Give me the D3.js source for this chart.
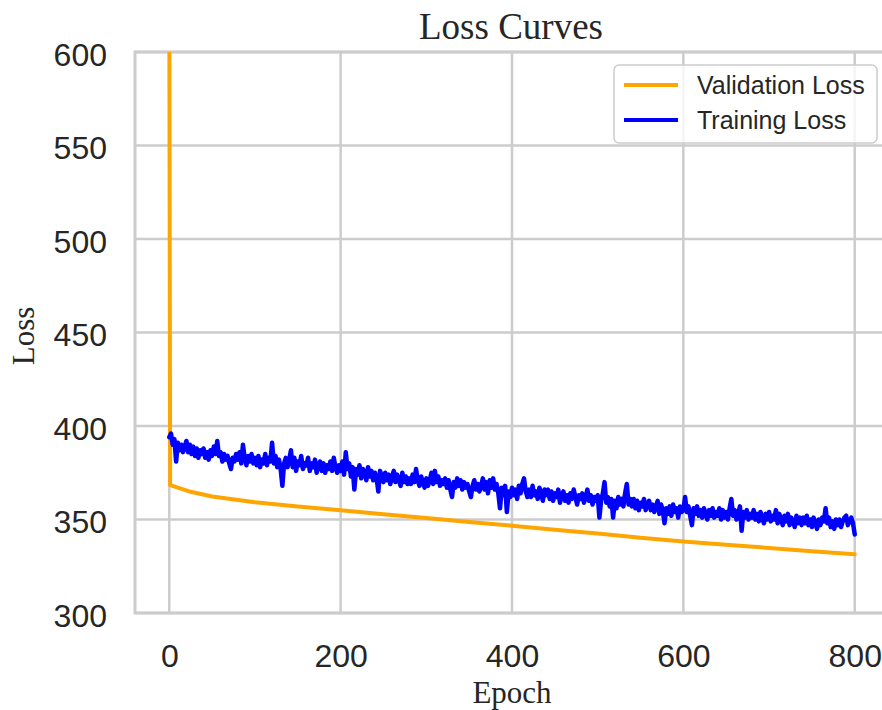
<!DOCTYPE html>
<html>
<head>
<meta charset="utf-8">
<script src="https://cdn.jsdelivr.net/npm/d3@7"></script>
<style>
  html, body { margin: 0; padding: 0; background: #fff; }
  svg { display: block; }
</style>
</head>
<body>
<svg id="chart" width="882" height="710"></svg>
<script>
// ---- data ----
const valEpochs = [0, 1, 25, 50, 100, 150, 200, 250, 300, 350, 400, 450, 500, 550, 600, 650, 700, 750, 800];
const valLoss   = [640, 368.4, 364.8, 362.3, 359.2, 357, 355, 352.8, 350.8, 348.7, 346.7, 344.5, 342.5, 340.3, 338.2, 336.5, 334.8, 333, 331.4];

const trainStep = 2; // epochs between training samples
const trainLoss = [
  394, 396, 390, 393, 381, 391, 387, 390, 386, 389,
  392, 386, 390, 385, 389, 384, 388, 383, 387, 385,
  388, 383, 386, 382, 387, 384, 389, 385, 392, 384,
  386, 381, 385, 382, 384, 380, 377, 383, 381, 385,
  382, 386, 380, 390, 383, 379, 384, 381, 385, 380,
  383, 379, 384, 378, 382, 380, 385, 379, 383, 381,
  391, 380, 384, 378, 382, 377, 368, 380, 383, 378,
  382, 387, 378, 383, 376, 381, 379, 384, 377, 380,
  379, 383, 376, 380, 378, 382, 375, 379, 381, 376,
  380, 375, 379, 377, 381, 376, 383, 378, 375, 379,
  376, 381, 374, 386, 377, 380, 373, 378, 366, 377,
  374, 379, 372, 377, 375, 371, 378, 373, 376, 371,
  375, 372, 365, 376, 373, 370, 375, 371, 374, 369,
  373, 376, 370, 374, 371, 368, 375, 370, 373, 369,
  372, 369, 374, 370, 377, 371, 368, 373, 370, 367,
  372, 368, 371, 375, 369, 376, 370, 373, 368, 371,
  369, 372, 367, 371, 366, 362, 370, 367, 372, 368,
  371, 366, 370, 367, 369, 365, 362, 368, 371, 366,
  369, 365, 368, 372, 366, 370, 364, 371, 367, 372,
  366, 369, 364, 356, 367, 363, 368, 354, 365, 362,
  367, 363, 366, 361, 368, 364, 369, 372, 365, 362,
  366, 362, 368, 363, 365, 361, 367, 364, 360, 366,
  363, 366, 361, 365, 360, 364, 362, 366, 359, 363,
  365, 360, 363, 359, 364, 361, 366, 362, 358, 363,
  361, 364, 359, 362, 366, 360, 363, 358, 362, 360,
  363, 351, 360, 364, 370, 359, 362, 357, 361, 351,
  360, 356, 362, 358, 361, 357, 364, 369, 358, 361,
  357, 361, 356, 360, 355, 359, 357, 361, 355, 358,
  360, 355, 358, 354, 357, 360, 353, 358, 355, 348,
  356, 353, 357, 352, 358, 354, 356, 351, 357, 354,
  355, 362, 354, 357, 352, 347, 356, 353, 357, 352,
  355, 351, 356, 353, 350, 355, 352, 356, 351, 354,
  352, 356, 350, 355, 351, 354, 350, 356, 361, 352,
  355, 350, 353, 357, 344, 354, 351, 355, 350, 353,
  351, 355, 350, 353, 349, 354, 351, 348, 353, 350,
  354, 349, 352, 350, 355, 348, 353, 350, 347, 352,
  349, 353, 347, 351, 349, 346, 352, 348, 351, 347,
  351, 348, 352, 347, 350, 346, 351, 348, 345, 350,
  347, 351, 349, 356, 348, 351, 346, 349, 345, 350,
  347, 350, 346, 349, 351, 352, 347, 349, 351, 348,
  342
];

const xTicks = [0, 200, 400, 600, 800];
const yTicks = [300, 350, 400, 450, 500, 550, 600];
const seriesNames = ["Validation Loss", "Training Loss"];
const seriesColors = ["#ffa500", "#0000ff"];

// ---- layout ----
const svg = d3.select("#chart");
const pL = 135, pT = 52, pR = 889, pB = 613;
const x = d3.scaleLinear().domain([-40, 840]).range([pL, pR]);
const y = d3.scaleLinear().domain([300, 600]).range([pB, pT]);
const gridColor = "#cccccc";
const textColor = "#262626";
const sans = "'Liberation Sans', Arial, sans-serif";
const serif = "'Liberation Serif', 'Times New Roman', serif";

svg.append("defs").append("clipPath").attr("id", "plotclip")
  .append("rect").attr("x", pL).attr("y", pT).attr("width", pR - pL).attr("height", pB - pT);

// grid
const grid = svg.append("g");
grid.selectAll("line.h").data(yTicks).join("line")
  .attr("x1", pL).attr("x2", pR)
  .attr("y1", d => y(d)).attr("y2", d => y(d))
  .attr("stroke", gridColor).attr("stroke-width", 2.5);
grid.selectAll("line.v").data(xTicks).join("line")
  .attr("y1", pT).attr("y2", pB)
  .attr("x1", d => x(d)).attr("x2", d => x(d))
  .attr("stroke", gridColor).attr("stroke-width", 2.5);

// spines
svg.append("rect").attr("x", pL).attr("y", pT)
  .attr("width", pR - pL).attr("height", pB - pT)
  .attr("fill", "none").attr("stroke", gridColor).attr("stroke-width", 3);

// axes (tick labels via d3 axes)
const yAxis = svg.append("g").attr("transform", `translate(${pL - 28},0)`)
  .call(d3.axisLeft(y).tickValues(yTicks).tickSize(0).tickPadding(0).tickFormat(d3.format("d")));
yAxis.select(".domain").remove();
yAxis.selectAll("text").attr("font-family", sans).attr("font-size", 32)
  .attr("fill", textColor).attr("dy", null).attr("y", 13);

const xAxis = svg.append("g").attr("transform", `translate(0,${pB})`)
  .call(d3.axisBottom(x).tickValues(xTicks).tickSize(0).tickPadding(0).tickFormat(d3.format("d")));
xAxis.select(".domain").remove();
xAxis.selectAll("text").attr("font-family", sans).attr("font-size", 32)
  .attr("fill", textColor).attr("dy", null).attr("y", 54);

// lines
const plot = svg.append("g").attr("clip-path", "url(#plotclip)");
const valData = valEpochs.map((e, i) => [e, valLoss[i]]);
const trainData = trainLoss.map((v, i) => [i * trainStep, v]);
const line = d3.line().x(d => x(d[0])).y(d => y(d[1]));

plot.append("path").datum(valData).attr("d", line)
  .attr("fill", "none").attr("stroke", seriesColors[0]).attr("stroke-width", 4)
  .attr("stroke-linejoin", "round").attr("stroke-linecap", "round");
plot.append("path").datum(trainData).attr("d", line)
  .attr("fill", "none").attr("stroke", seriesColors[1]).attr("stroke-width", 4.5)
  .attr("stroke-linejoin", "round").attr("stroke-linecap", "round");

// titles
svg.append("text").attr("x", 511).attr("y", 39).attr("text-anchor", "middle")
  .attr("font-family", serif).attr("font-size", 37).attr("fill", textColor).text("Loss Curves");
svg.append("text").attr("x", 512).attr("y", 703).attr("text-anchor", "middle")
  .attr("font-family", serif).attr("font-size", 31).attr("fill", textColor).text("Epoch");
svg.append("text").attr("transform", "translate(34,336) rotate(-90)").attr("text-anchor", "middle")
  .attr("font-family", serif).attr("font-size", 31).attr("fill", textColor).text("Loss");

// legend
const lg = svg.append("g");
lg.append("rect").attr("x", 614).attr("y", 65).attr("width", 263).attr("height", 78)
  .attr("rx", 5).attr("fill", "#ffffff").attr("fill-opacity", 0.8)
  .attr("stroke", gridColor).attr("stroke-width", 1.5);
seriesNames.forEach((name, i) => {
  const cy = 85 + i * 35;
  lg.append("line").attr("x1", 624).attr("x2", 678).attr("y1", cy).attr("y2", cy)
    .attr("stroke", seriesColors[i]).attr("stroke-width", 4);
  lg.append("text").attr("x", 697).attr("y", cy + 9)
    .attr("font-family", sans).attr("font-size", 25).attr("fill", textColor).text(name);
});
</script>
</body>
</html>
